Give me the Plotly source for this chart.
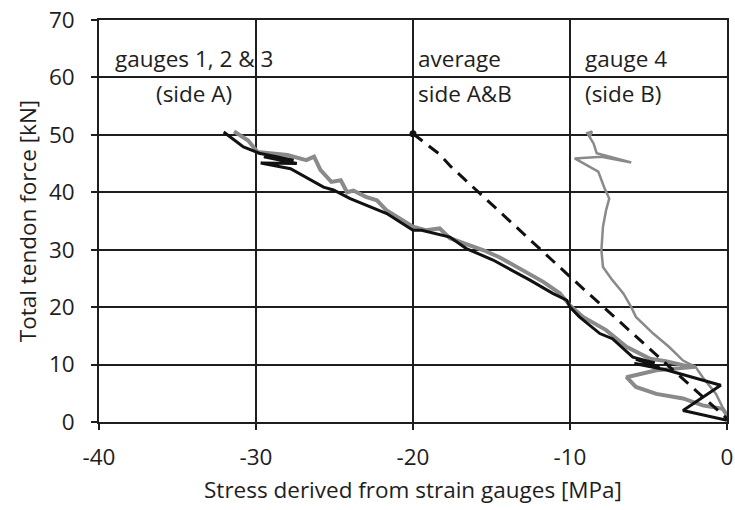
import plotly.graph_objects as go

# Side A, gauge 1 (black)
side_a_black_x = [0.0, -2.8, -0.4, -3.9, -5.9, -4.3, -5.8, -4.6, -6.0, -7.3, -8.1, -9.4, -10.0, -10.2,
                  -11.1, -12.55, -14.9, -16.6, -17.65, -19.45, -20.0, -21.67, -24.0, -25.07, -25.7,
                  -27.8, -29.7, -27.4, -29.5, -27.6, -29.8, -30.8, -32.06]
side_a_black_y = [0.3, 2.0, 6.4, 9.1, 10.2, 9.6, 10.9, 10.3, 11.3, 14.5, 15.4, 18.3, 20.0, 21.2,
                  22.4, 24.7, 28.2, 30.2, 32.2, 33.4, 33.4, 36.3, 38.9, 40.4, 40.9,
                  44.1, 45.1, 45.0, 46.2, 45.6, 46.8, 47.9, 50.5]

# Side A, gauges 2 & 3 (grey)
side_a_grey_x = [0.0, -0.27, -1.55, -2.8, -4.5, -5.8, -6.4, -4.5, -2.0, -2.8, -3.9, -4.9, -6.4, -7.7,
                 -9.17, -10.0, -10.65, -11.7, -14.5, -15.5, -17.65, -18.3, -19.2, -20.0, -21.7, -22.3,
                 -23.0, -23.8, -24.2, -24.6, -25.2, -25.9, -26.3, -26.8, -28.0, -29.9, -30.5, -31.4]
side_a_grey_y = [1.2, 2.3, 2.9, 4.1, 4.9, 6.1, 7.8, 9.0, 9.6, 9.9, 10.6, 11.0, 13.1, 16.0,
                 18.3, 20.3, 22.4, 24.4, 28.7, 29.9, 32.0, 33.7, 33.4, 34.0, 36.9, 38.6,
                 39.2, 40.3, 40.0, 42.1, 41.8, 43.9, 46.2, 45.6, 46.5, 47.0, 49.0, 50.6]

# Side B, gauge 4 (grey, thin)
gauge4_x = [0.0, -0.7, -1.55, -2.0, -2.8, -3.7, -4.7, -5.8, -6.1, -6.6, -7.3, -7.9, -8.0, -7.9,
            -7.7, -7.5, -7.8, -8.2, -9.7, -8.0, -6.1, -8.3, -8.5, -8.9, -8.6, -8.75]
gauge4_y = [1.0, 4.9, 7.8, 9.6, 10.7, 13.1, 15.4, 18.3, 20.0, 22.4, 24.7, 27.0, 29.9, 34.0,
            36.9, 38.9, 40.7, 43.6, 45.9, 46.2, 45.2, 46.8, 48.5, 50.3, 50.6, 49.6]

# Average of side A & B (dashed)
avg_x = [-20.0, -18.3, -17.6, -10.0, -3.9, 0.0]
avg_y = [50.2, 46.6, 44.5, 25.3, 10.2, 0.6]

x_ticks = [-40, -30, -20, -10, 0]
x_tick_text = ["-40", "-30", "-20", "-10", "0"]
y_ticks = [0, 10, 20, 30, 40, 50, 60, 70]

FONT = "Open Sans"
FS = 22.5
INK = "#1e1e1e"
GREY = "#8a8a8a"

fig = go.Figure()
fig.add_trace(go.Scatter(x=side_a_grey_x, y=side_a_grey_y, mode="lines",
                         line=dict(color=GREY, width=4), showlegend=False))
fig.add_trace(go.Scatter(x=gauge4_x, y=gauge4_y, mode="lines",
                         line=dict(color=GREY, width=2.5), showlegend=False))
fig.add_trace(go.Scatter(x=side_a_black_x, y=side_a_black_y, mode="lines",
                         line=dict(color="#111111", width=3), showlegend=False))
fig.add_trace(go.Scatter(x=avg_x, y=avg_y, mode="lines",
                         line=dict(color="#111111", width=3, dash="12px,8px"), showlegend=False))
fig.add_trace(go.Scatter(x=avg_x[:1], y=avg_y[:1], mode="markers",
                         marker=dict(color="#111111", size=7), showlegend=False))

labels = [
    ("gauges 1, 2 & 3", -33.97, 63.3, "center"),
    ("(side A)", -33.97, 57.2, "center"),
    ("average", -19.6, 63.3, "left"),
    ("side A&B", -19.6, 57.2, "left"),
    ("gauge 4", -8.95, 63.3, "left"),
    ("(side B)", -8.95, 57.2, "left"),
]
for text, lx, ly, anchor in labels:
    fig.add_annotation(x=lx, y=ly, text=text, showarrow=False, xanchor=anchor,
                       yanchor="middle", xshift=-3 if anchor == "left" else 0,
                       font=dict(family=FONT, size=FS, color=INK))

axis_common = dict(
    showgrid=True, gridcolor=INK, gridwidth=1.6,
    showline=True, linecolor=INK, linewidth=1.6, mirror=True,
    ticks="outside", ticklen=6, tickwidth=1.6, tickcolor=INK,
    zeroline=False, automargin=False,
    tickfont=dict(family=FONT, size=FS, color=INK),
)

fig.update_layout(
    width=735, height=510,
    margin=dict(l=98.5, r=7.5, t=20, b=88.3, autoexpand=False),
    paper_bgcolor="white", plot_bgcolor="white",
    xaxis=dict(range=[-40, 0], tickvals=x_ticks, ticktext=x_tick_text, ticklabelstandoff=8,
               title=dict(text="Stress derived from strain gauges [MPa]", standoff=11,
                          font=dict(family=FONT, size=FS, color=INK)),
               **axis_common),
    yaxis=dict(range=[0, 70], tickvals=y_ticks, ticklabelstandoff=12,
               title=dict(text="Total tendon force [kN]", standoff=6,
                          font=dict(family=FONT, size=FS, color=INK)),
               **axis_common),
)

fig.write_html("out.html")
